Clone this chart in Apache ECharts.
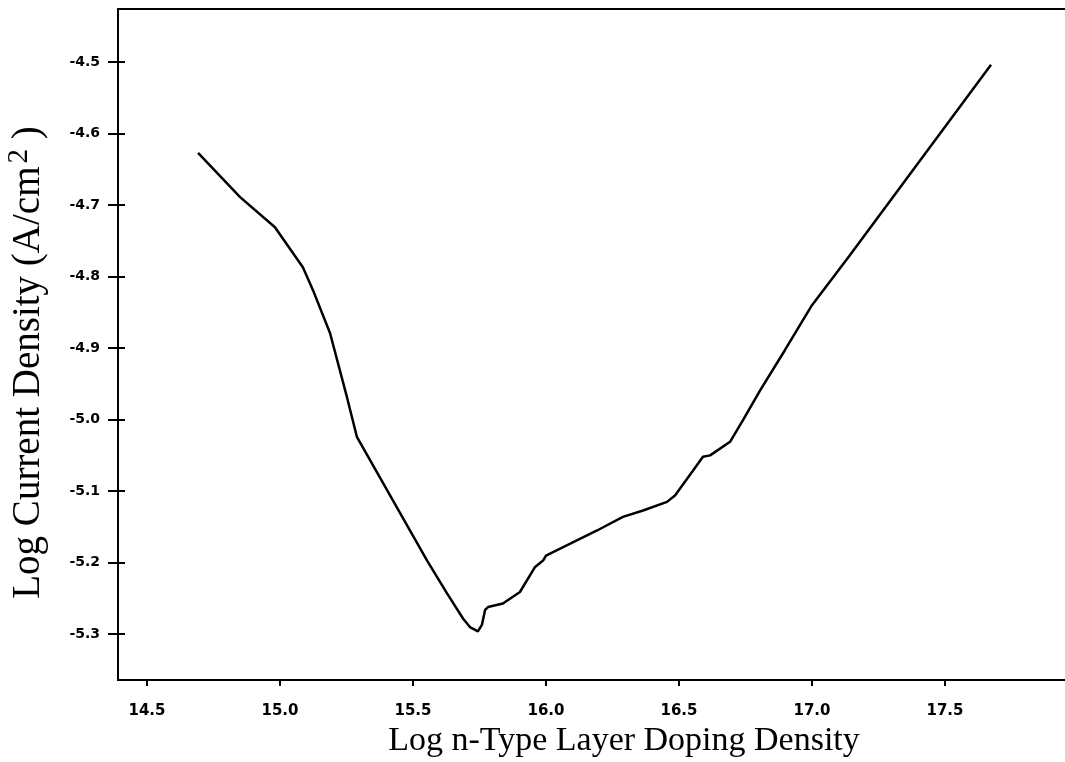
<!DOCTYPE html>
<html>
<head>
<meta charset="utf-8">
<script src="https://cdn.jsdelivr.net/npm/echarts@6/dist/echarts.min.js"></script>
<style>html,body{margin:0;padding:0;background:#fff;}#c{width:1065px;height:762px;}</style>
</head>
<body>
<div id="c"></div>
<script>
const dopingLog = [14.692, 14.85, 14.981, 15.086, 15.124, 15.188, 15.252, 15.289, 15.553, 15.628, 15.688, 15.714, 15.744, 15.759, 15.771, 15.782, 15.838, 15.902, 15.959, 15.989, 16.0, 16.192, 16.289, 16.365, 16.455, 16.485, 16.553, 16.59, 16.617, 16.692, 16.74, 16.805, 16.898, 17.0, 17.143, 17.673];
const currentLog = [-4.627, -4.689, -4.731, -4.787, -4.819, -4.879, -4.969, -5.024, -5.197, -5.243, -5.278, -5.290, -5.296, -5.287, -5.266, -5.262, -5.257, -5.241, -5.206, -5.197, -5.19, -5.155, -5.136, -5.127, -5.115, -5.106, -5.071, -5.052, -5.050, -5.031, -5.001, -4.959, -4.903, -4.84, -4.770, -4.504];
const xTicks = [14.5, 15.0, 15.5, 16.0, 16.5, 17.0, 17.5];
const yTicks = [-5.3, -5.2, -5.1, -5.0, -4.9, -4.8, -4.7, -4.6, -4.5];

const pts = dopingLog.map((x, i) => [x, currentLog[i]]);
const chart = echarts.init(document.getElementById('c'));
const tickFont = {color:'#000', fontFamily:'DejaVu Sans', fontWeight:'bold', fontSize:14};
chart.setOption({
  animation:false,
  grid:{left:118, top:9, width:960, height:671, show:true, borderColor:'#000', borderWidth:2, backgroundColor:'transparent', containLabel:false, outerBoundsMode:'none'},
  xAxis:{
    type:'value', min:14.391, max:18.0,
    splitLine:{show:false},
    axisLine:{lineStyle:{color:'#000', width:2}},
    axisTick:{show:true, length:6, lineStyle:{color:'#000', width:2}, customValues:xTicks},
    axisLabel:Object.assign({margin:24, customValues:xTicks, formatter:v=>v.toFixed(1)}, tickFont, {fontSize:15}),
    name:'Log n-Type Layer Doping Density', nameLocation:'middle', nameGap:43,
    nameTextStyle:{fontFamily:'Liberation Serif', fontSize:34, color:'#000', padding:[0,0,0,52]}
  },
  yAxis:[{
    type:'value', min:-5.364, max:-4.426,
    splitLine:{show:false},
    axisLine:{lineStyle:{color:'#000', width:2}},
    axisTick:{show:true, length:10, lineStyle:{color:'#000', width:2}, customValues:yTicks},
    axisLabel:Object.assign({margin:18, customValues:yTicks, formatter:v=>v.toFixed(1)}, tickFont),
    name:'{a|Log Current Density (A/cm}{s|2}{a| )}', nameLocation:'middle', nameGap:66,
    nameTextStyle:{padding:[0,36,0,0], rich:{
      a:{fontFamily:'Liberation Serif', fontSize:39, color:'#000'},
      s:{fontFamily:'Liberation Serif', fontSize:29, color:'#000', padding:[0,0,18,3]}
    }}
  },{
    type:'value', min:-5.364, max:-4.426, position:'left',
    splitLine:{show:false}, axisLine:{show:false},
    axisTick:{show:true, inside:true, length:7, lineStyle:{color:'#000', width:2}, customValues:yTicks},
    axisLabel:{show:false}
  }],
  series:[{
    type:'line', data:pts, yAxisIndex:0, symbol:'none', smooth:false,
    lineStyle:{color:'#000', width:2.5}
  }]
});
</script>
</body>
</html>
